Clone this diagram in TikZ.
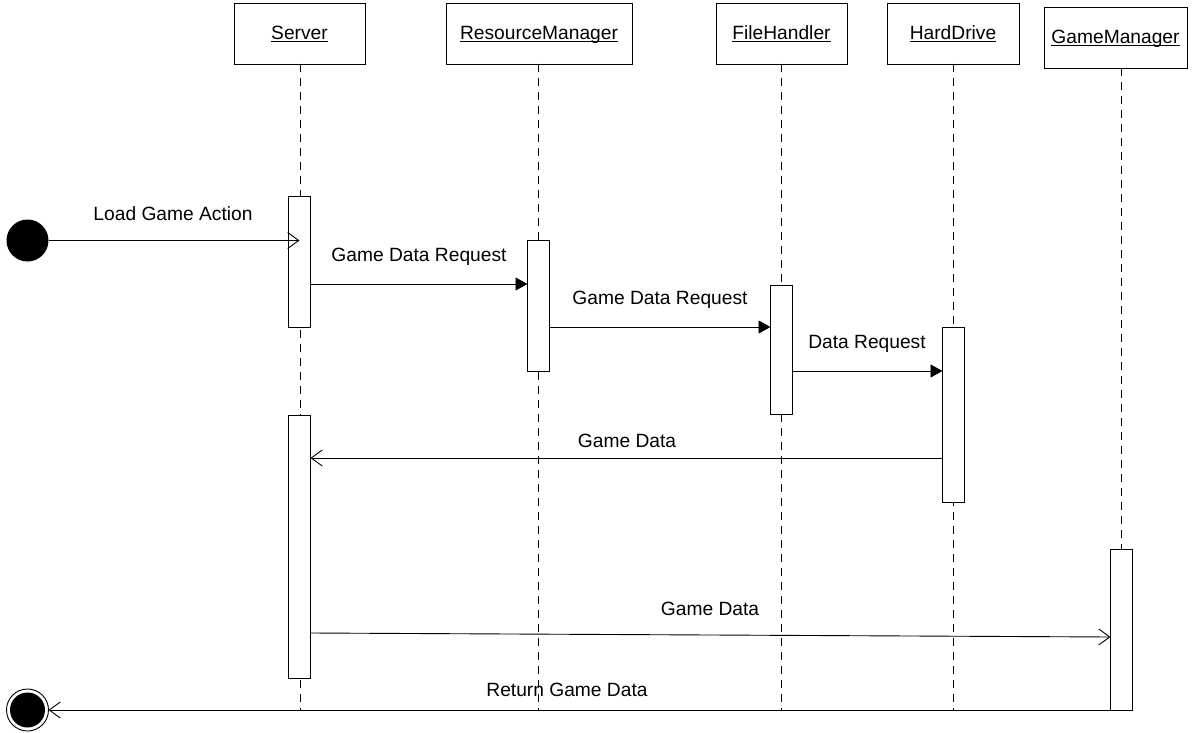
\documentclass[tikz,border=0pt]{standalone}
\usepackage{fontspec}
\setmainfont{Liberation Sans}
\usetikzlibrary{arrows.meta}
% underline at a fixed depth, crossing descenders
\newcommand\objname[1]{\underline{\smash{#1}}}
\begin{document}
\begin{tikzpicture}[x=1pt,y=-1pt,
  every node/.style={font=\fontsize{19.2}{23}\selectfont},
  head/.style={draw, line width=0.9pt, fill=white, minimum height=61pt, inner sep=0pt, outer sep=0pt, text height=14pt, text depth=1pt},
  act/.style={draw, line width=0.9pt, fill=white, minimum width=22pt, inner sep=0pt, outer sep=0pt},
  lifeline/.style={line width=0.9pt, dash pattern=on 8pt off 6pt},
  msgfill/.style={line width=0.9pt, -{Triangle[length=12pt,width=13pt]}},
  msgopen/.style={line width=0.9pt, -{Straight Barb[length=11pt,width=16pt,line width=0.9pt]}},
  lbl/.style={inner sep=1pt}
]
\useasboundingbox (0,0) rectangle (1200,733);

% object heads
\node[head, minimum width=131pt] (srv) at (299.5,33.5) {\objname{Server}};
\node[head, minimum width=186pt] (rmg) at (539,33.5) {\objname{ResourceManager}};
\node[head, minimum width=131pt] (fhd) at (781.5,33.5) {\objname{FileHandler}};
\node[head, minimum width=132pt] (hdr) at (953,33.5) {\objname{HardDrive}};
\node[head, minimum width=143pt] (gmg) at (1115.5,37.5) {\objname{GameManager}};

% bottom of the lifelines
\coordinate (bot) at (0,710);

% lifelines
\draw[lifeline] (srv.south -| 300,0) -- (bot -| 300,0);
\draw[lifeline] (rmg.south -| 538,0) -- (bot -| 538,0);
\draw[lifeline] (fhd.south -| 781,0) -- (bot -| 781,0);
\draw[lifeline] (hdr.south -| 953,0) -- (bot -| 953,0);

% activation bars
\node[act, minimum height=131pt] (s1) at (299.5,261.5) {};
\node[act, minimum height=131pt] (rma) at (538.5,305.5) {};
\node[act, minimum height=129pt] (fha) at (781.5,349.5) {};
\node[act, minimum height=175pt] (hda) at (953.5,414.5) {};
\node[act, minimum height=263pt] (s2) at (299.5,546.5) {};
\node[act, minimum height=161pt] (gma) at (1121.5,629.5) {};
\draw[lifeline] (gmg.south -| gma.north) -- (gma.north);

% initial and final states
\node[circle, fill=black, minimum size=42pt, inner sep=0pt, outer sep=0pt] (start) at (27.5,240.5) {};
\node[circle, draw, line width=0.9pt, fill=white, minimum size=42pt, inner sep=0pt, outer sep=0pt] (stop) at (27.5,710) {};
\fill (stop.center) circle (17.5pt);

% messages
\draw[msgopen] (start.east) -- (s1.center |- start.east);
\node[lbl] (t0) at (173,214) {Load Game Action};

\draw[msgfill] (s1.east |- 0,284) -- (rma.west |- 0,284);
\node[lbl] (t1) at (419,257) {Game Data Request};

\draw[msgfill] (rma.east |- 0,327) -- (fha.west |- 0,327);
\node[lbl] (t2) at (660,300) {Game Data Request};

\draw[msgfill] (fha.east |- 0,371) -- (hda.west |- 0,371);
\node[lbl] (t3) at (867,344) {Data Request};

\draw[msgopen] (hda.west |- 0,458) -- (s2.east |- 0,458);
\node[lbl] (t4) at (627,441) {Game Data};

\draw[msgopen] (s2.east |- 0,633) -- (gma.west |- 0,637);
\node[lbl] (t5) at (710,609) {Game Data};

\draw[msgopen] (gma.south east) -- (stop.east);
\node[lbl] (t6) at (567,690) {Return Game Data};
\end{tikzpicture}
\end{document}
